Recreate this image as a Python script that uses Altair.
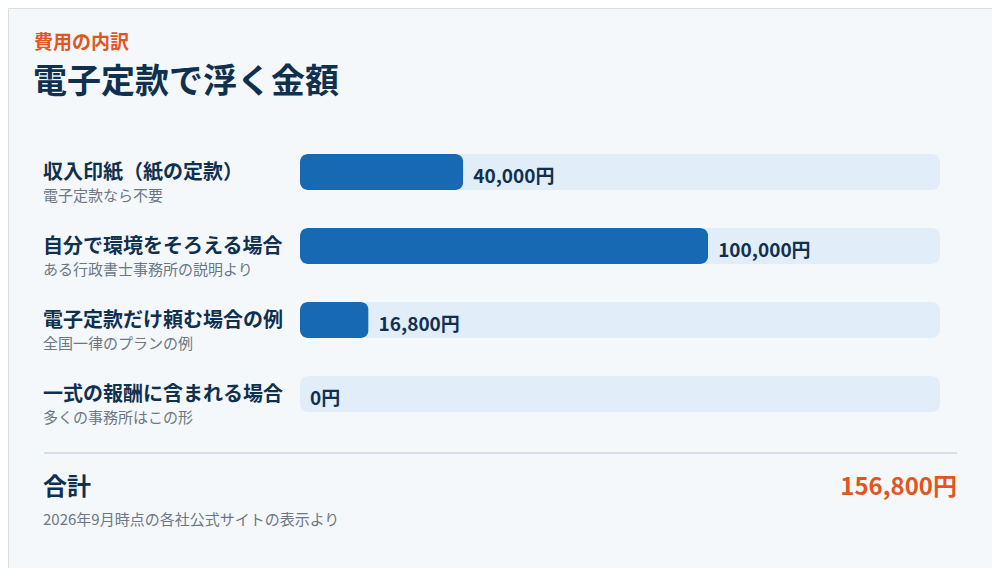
import altair as alt
import pandas as pd

# ---- data ----
categories = ["収入印紙（紙の定款）", "自分で環境をそろえる場合", "電子定款だけ頼む場合の例", "一式の報酬に含まれる場合"]
notes = ["電子定款なら不要", "ある行政書士事務所の説明より", "全国一律のプランの例", "多くの事務所はこの形"]
values = [40000, 100000, 16800, 0]
value_labels = ["40,000円", "100,000円", "16,800円", "0円"]
total_value = 156800
total_label = "156,800円"
eyebrow = "費用の内訳"
title = "電子定款で浮く金額"
total_caption = "合計"
source = "2026年9月時点の各社公式サイトの表示より"

NAVY = "#10304f"
BLUE = "#1769b3"
TRACK = "#e1edf9"
GRAY = "#6b7785"
ORANGE = "#e0561f"
BG = "#f4f8fb"
FONT = "Noto Sans CJK JP"

df = pd.DataFrame({
    "cat": categories,
    "note": notes,
    "value": values,
    "label": value_labels,
    "track": [total_value] * len(categories),
})

xs = alt.Scale(domain=[0, total_value], range=[292, 932])
ys = alt.Scale(type="point", domain=categories, range=[164, 386], padding=0)

base = alt.Chart(df)
Y = alt.Y("cat:N", scale=ys, axis=None)

track = base.mark_bar(color=TRACK, height=36, cornerRadius=8).encode(
    x=alt.X("track:Q", scale=xs, axis=None), y=Y)
bars = base.transform_filter("datum.value > 0").mark_bar(color=BLUE, height=36, cornerRadius=8).encode(
    x=alt.X("value:Q", scale=xs, axis=None), y=Y)
vals = base.mark_text(align="left", baseline="middle", dx=10, dy=5, fontSize=19,
                      fontWeight="bold", color=NAVY, font=FONT).encode(
    x=alt.X("value:Q", scale=xs, axis=None), y=Y, text="label:N")
cats = base.mark_text(align="left", baseline="middle", dy=1, fontSize=20,
                      fontWeight="bold", color=NAVY, font=FONT).encode(
    x=alt.value(35), y=Y, text="cat:N")
subs = base.mark_text(align="left", baseline="middle", dy=24, fontSize=15,
                      color=GRAY, font=FONT).encode(
    x=alt.value(35), y=Y, text="note:N")

one = pd.DataFrame({"eyebrow": [eyebrow], "title": [title], "tc": [total_caption],
                    "tl": [total_label], "src": [source]})
ob = alt.Chart(one)
t_eyebrow = ob.mark_text(align="left", baseline="middle", fontSize=19, fontWeight="bold",
                         color=ORANGE, font=FONT).encode(x=alt.value(26), y=alt.value(35), text="eyebrow:N")
t_title = ob.mark_text(align="left", baseline="middle", fontSize=34, fontWeight="bold",
                       color=NAVY, font=FONT).encode(x=alt.value(25), y=alt.value(75), text="title:N")
sep = ob.mark_rule(color="#d6dfe7", strokeWidth=2).encode(
    x=alt.value(36), x2=alt.value(949), y=alt.value(445))
t_tc = ob.mark_text(align="left", baseline="middle", fontSize=24, fontWeight="bold",
                    color=NAVY, font=FONT).encode(x=alt.value(35), y=alt.value(480), text="tc:N")
t_tl = ob.mark_text(align="right", baseline="middle", fontSize=24, fontWeight="bold",
                    color=ORANGE, font=FONT).encode(x=alt.value(949), y=alt.value(480), text="tl:N")
t_src = ob.mark_text(align="left", baseline="middle", fontSize=15,
                     color=GRAY, font=FONT).encode(x=alt.value(35), y=alt.value(512), text="src:N")

chart = alt.layer(track, bars, vals, cats, subs, t_eyebrow, t_title, sep, t_tc, t_tl, t_src).properties(
    width=984, height=560, background=BG, padding=0,
    autosize=alt.AutoSizeParams(type="none"),
).configure_view(stroke=None).configure(font=FONT)

chart.save("out.html", embed_options={"renderer": "svg", "actions": False})
